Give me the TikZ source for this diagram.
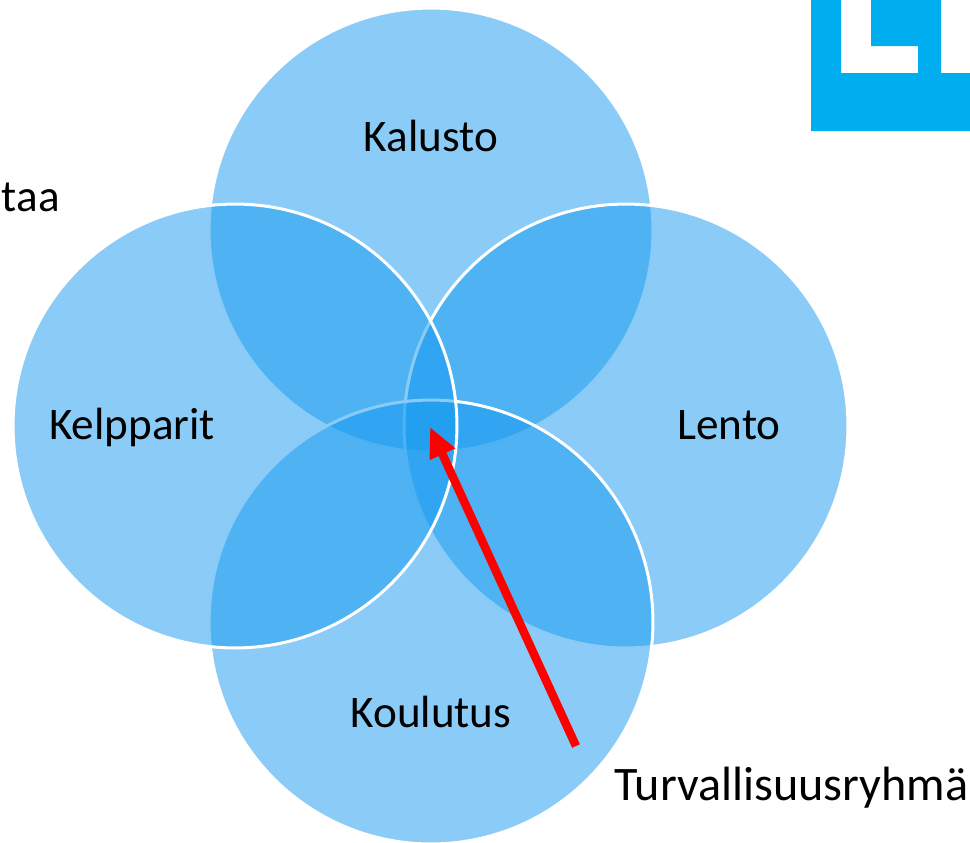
\documentclass[tikz,border=0pt]{standalone}
\usepackage{fontspec}
\setmainfont{Carlito}
\usetikzlibrary{arrows.meta,positioning}
\definecolor{petalblue}{RGB}{21,153,239}
\definecolor{logoblue}{RGB}{0,174,239}
\begin{document}
\begin{tikzpicture}
[x=.02cm,y=-.02cm,
petal/.style={circle,minimum size=8.88cm,inner sep=0pt,draw=white,line width=.06cm,fill=petalblue,fill opacity=.5},
lbl/.style={font=\fontsize{25.7}{30}\selectfont,text=black,inner sep=0pt,anchor=base},
edge/.style={red,line width=.17cm,-{Triangle[length=.6cm,width=.52cm]}}]
\useasboundingbox (0,0) rectangle (970,842);
%%
\node[petal] (kalusto) at (431,230) {};
\node[petal] (lento) at (626,426) {};
\node[petal] (koulutus) at (431,622) {};
\node[petal] (kelpparit) at (235,426) {};
%%
\fill[logoblue] (811,0) -- (841,0) -- (841,73) -- (918,73) -- (918,46) -- (871,46) -- (871,0)
-- (941,0) -- (941,73) -- (970,73) -- (970,131) -- (811,131) -- cycle;
%%
\node[lbl] (kalustotext) at (431,151) {Kalusto};
\node[lbl] (lentotext) at (729,439) {Lento};
\node[lbl] (koulutustext) at (431,727) {Koulutus};
\node[lbl] (kelpparittext) at (132,439) {Kelpparit};
\node[lbl,anchor=base east] (taatext) at (60,211) {taa};
\node[lbl,anchor=base west,font=\fontsize{27.4}{32}\selectfont] (ryhma) at (614,800) {Turvallisuusryhmä};
%%
\coordinate (start) at (576,746);
\coordinate (tip) at (430,427);
\draw[edge] (start) -- (tip);
\end{tikzpicture}
\end{document}
